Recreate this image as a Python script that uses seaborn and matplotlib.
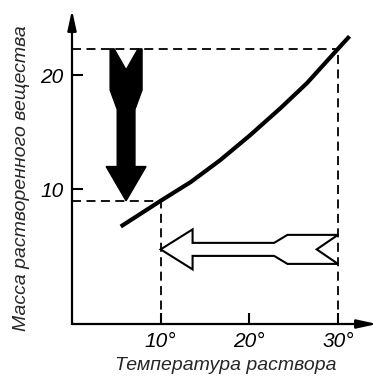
import matplotlib
matplotlib.use("Agg")
import matplotlib.pyplot as plt
from matplotlib.patches import Polygon
import seaborn as sns
import pandas as pd

# ---- data ----
temps = [5.5, 10, 13.4, 16.7, 20.1, 23.5, 26.5, 30, 31.3]
masses = [6.75, 9.0, 10.65, 12.55, 14.75, 17.1, 19.3, 22.3, 23.4]
x_ticks = [10, 20, 30]
x_tick_labels = ["10°", "20°", "30°"]
y_ticks = [10, 20]
y_tick_labels = ["10", "20"]
x_label = "Температура раствора"
y_label = "Масса растворенного вещества"
t_low, t_high = 10, 30

sns.set_theme(style="white")
FONT = ["Liberation Sans Narrow", "Liberation Sans", "DejaVu Sans"]
plt.rcParams["font.family"] = FONT

fig = plt.figure(figsize=(3.77, 3.83), dpi=100)
ax = fig.add_axes([72 / 377, 59 / 383, 305 / 377, 314 / 383])

df = pd.DataFrame({"t": temps, "m": masses})
sns.lineplot(data=df, x="t", y="m", ax=ax, color="black", lw=3.0,
             solid_capstyle="butt", solid_joinstyle="round", zorder=4)

ax.set_xlim(0, 34.4)
ax.set_ylim(-1.78, 25.7)

m_low = masses[temps.index(t_low)]
m_high = masses[temps.index(t_high)]
x0, x1 = ax.get_xlim()
y0, y1 = ax.get_ylim()
dash = dict(color="black", lw=1.3, linestyle=(0, (5, 3)), zorder=2)
ax.plot([x0, t_high], [m_high, m_high], **dash)
ax.plot([t_high, t_high], [y0, m_high], **dash)
ax.plot([x0, t_low], [m_low, m_low], **dash)
ax.plot([t_low, t_low], [y0, m_low], **dash)

# black downward arrow (from value at 30° to value at 10°)
cx = 6.1
top, tip = m_high, m_low
blk = [(cx - 1.8, top), (cx - 1.35, top), (cx, top - 1.84), (cx + 1.35, top),
       (cx + 1.8, top), (cx + 1.8, top - 3.6), (cx + 1.0, top - 5.3),
       (cx + 1.0, tip + 3.0), (cx + 2.25, tip + 3.0), (cx, tip),
       (cx - 2.25, tip + 3.0), (cx - 1.0, tip + 3.0), (cx - 1.0, top - 5.3),
       (cx - 1.8, top - 3.6)]
ax.add_patch(Polygon(blk, closed=True, facecolor="black", edgecolor="black",
                     lw=1.0, zorder=5))

# white leftward arrow (from 30° to 10°)
yc = 4.75
wht = [(t_low, yc), (t_low + 3.6, yc + 1.75), (t_low + 3.6, yc + 0.57),
       (t_low + 12.8, yc + 0.57), (t_low + 14.3, yc + 1.27), (t_high, yc + 1.27),
       (t_high - 2.4, yc), (t_high, yc - 1.27), (t_low + 14.3, yc - 1.27),
       (t_low + 12.8, yc - 0.57), (t_low + 3.6, yc - 0.57),
       (t_low + 3.6, yc - 1.75)]
ax.add_patch(Polygon(wht, closed=True, facecolor="white", edgecolor="black",
                     lw=1.5, joinstyle="miter", zorder=5))

# axes with arrow heads
for s in ["top", "right", "left", "bottom"]:
    ax.spines[s].set_visible(False)
ax.annotate("", xy=(0, 1), xytext=(0, 0), xycoords="axes fraction",
            arrowprops=dict(arrowstyle="-|>,head_length=1.0,head_width=0.22",
                            color="black", lw=1.6, shrinkA=0, shrinkB=0))
ax.annotate("", xy=(1, 0), xytext=(0, 0), xycoords="axes fraction",
            arrowprops=dict(arrowstyle="-|>,head_length=1.0,head_width=0.22",
                            color="black", lw=1.6, shrinkA=0, shrinkB=0))

ax.set_xticks(x_ticks)
ax.set_xticklabels(x_tick_labels, fontsize=15, style="italic")
ax.set_yticks(y_ticks)
ax.set_yticklabels(y_tick_labels, fontsize=15, style="italic")
ax.tick_params(axis="both", direction="in", length=8, width=1.5, color="black",
               pad=6, labelcolor="black", left=True, bottom=True)
ax.set_xlabel("")
ax.set_ylabel("")
ax.grid(False)

fig.text(226 / 377, 1 - 366 / 383, x_label, ha="center", va="center",
         fontsize=14, style="italic", family=FONT)
fig.text(22 / 377, 1 - 178 / 383, y_label, ha="center", va="center",
         rotation=90, fontsize=14, style="italic", family=FONT)

fig.savefig("out.png", dpi=100, facecolor="white")
